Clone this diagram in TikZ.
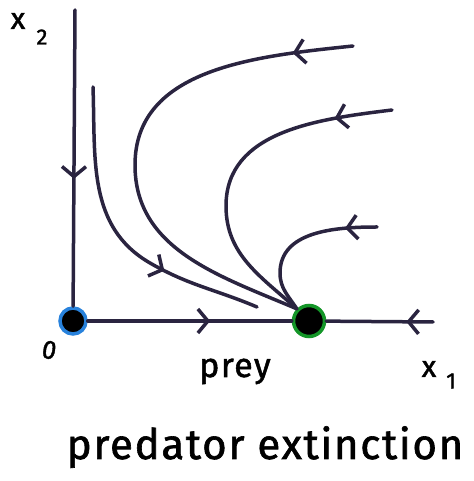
\documentclass[tikz,border=0pt]{standalone}
\usepackage{fontspec}
\setmainfont{Fira Sans}
\newfontfamily\hand{Fira Sans}[FakeBold=1.5, LetterSpace=4]
\usetikzlibrary{arrows.meta,decorations.markings}
\definecolor{ink}{RGB}{42,36,64}
\definecolor{blueink}{RGB}{40,130,220}
\definecolor{greenink}{RGB}{20,150,40}
\tikzset{
 traj/.style={draw=ink, line width=3.5pt, line cap=round},
 midarrow/.style={postaction={decorate,decoration={markings,mark=at position #1 with {\arrow{Straight Barb[length=10pt,width=24pt,line width=3.5pt]}}}}},
 fixpt/.style={circle, fill=black, line width=3.5pt, inner sep=0pt},
 lbl/.style={text=black, inner sep=0pt}
}
\begin{document}
\begin{tikzpicture}[x=1pt,y=1pt]
\useasboundingbox (0,0) rectangle (473,481);
% fixed points
\node[fixpt, draw=blueink, minimum size=26pt] (O) at (73,160) {};
\node[fixpt, draw=greenink, minimum size=31pt] (G) at (309,160) {};
% axes
\coordinate (ytop) at (75,471);
\coordinate (xend) at (433,159);
\draw[traj, midarrow=0.57] (ytop) -- (O);
\draw[traj, midarrow=0.6] (O) -- (G);
\draw[traj, midarrow=0.25] (xend) -- (G);
% trajectories
\coordinate (l0) at (93,394);
\coordinate (l1) at (150,218);
\coordinate (l2) at (257,174);
\draw[traj, midarrow=0.68] (l0) to[out=272,in=150] (l1) to[out=-30,in=157] (l2);
\coordinate (a0) at (353,435);
\coordinate (a1) at (135,316);
\draw[traj, midarrow=0.12] (a0) to[out=186,in=90] (a1) to[out=270,in=157] (G.135);
\coordinate (b0) at (392,371);
\coordinate (b1) at (226,275);
\draw[traj, midarrow=0.17] (b0) to[out=187,in=90] (b1) to[out=270,in=138] (G.135);
\coordinate (c0) at (377,254);
\coordinate (c1) at (280,208);
\draw[traj, midarrow=0.2] (c0) to[out=180,in=90] (c1) to[out=270,in=123] (G.135);
% labels
\node[lbl, font=\hand\fontsize{30}{30}\selectfont] (x2a) at (18,460) {x};
\node[lbl, font=\hand\fontsize{22}{22}\selectfont] (x2b) at (42,444) {2};
\node[lbl, font=\hand\fontsize{26}{26}\selectfont\itshape] (zero) at (49,131) {0};
\node[lbl, anchor=base, font=\hand\fontsize{34}{34}\selectfont] (prey) at (235,104) {prey};
\node[lbl, font=\hand\fontsize{30}{30}\selectfont] (x1a) at (429,112) {x};
\node[lbl, font=\hand\fontsize{22}{22}\selectfont] (x1b) at (451,100) {1};
\node[lbl, anchor=base, font=\hand\fontsize{42}{42}\selectfont] (title) at (265,22) {predator extinction};
\end{tikzpicture}
\end{document}
